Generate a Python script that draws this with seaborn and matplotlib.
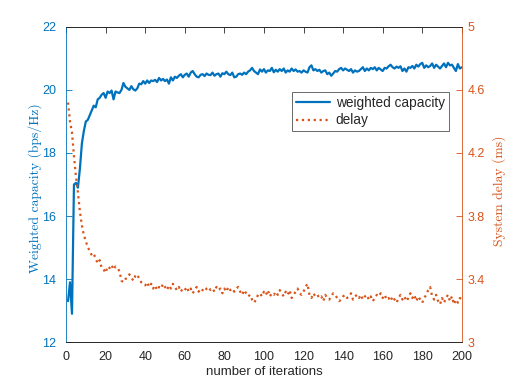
import numpy as np
import seaborn as sns
import matplotlib.pyplot as plt
import pandas as pd

# iterations 1..200
iters = np.arange(1, 201)

# weighted capacity (bps/Hz)
cap = [
    13.3, 13.9, 12.9, 17.0, 17.05, 16.9, 17.5, 18.3, 18.7, 19.0,
    19.05, 19.2, 19.35, 19.5, 19.45, 19.7, 19.75, 19.85, 19.9, 19.75,
    19.95, 19.9, 19.98, 19.7, 19.95, 19.92, 19.9, 20.0, 20.22, 20.1,
    20.05, 20.0, 20.12, 20.02, 19.98, 20.05, 20.2, 20.18, 20.28, 20.2,
    20.3, 20.22, 20.3, 20.28, 20.32, 20.25, 20.38, 20.3, 20.35, 20.28,
    20.33, 20.2, 20.4, 20.3, 20.42, 20.38, 20.45, 20.5, 20.4, 20.48,
    20.52, 20.42, 20.55, 20.6, 20.5, 20.42, 20.4, 20.48, 20.5, 20.44,
    20.52, 20.48, 20.47, 20.55, 20.45, 20.5, 20.52, 20.42, 20.53, 20.5,
    20.58, 20.5, 20.47, 20.55, 20.4, 20.42, 20.5, 20.52, 20.48, 20.55,
    20.5, 20.58, 20.62, 20.7, 20.6, 20.55, 20.5, 20.65, 20.58, 20.66,
    20.55, 20.62, 20.6, 20.7, 20.56, 20.64, 20.58, 20.66, 20.6, 20.68,
    20.55, 20.62, 20.58, 20.68, 20.6, 20.65, 20.58, 20.6, 20.55, 20.62,
    20.58, 20.55, 20.72, 20.78, 20.62, 20.66, 20.6, 20.64, 20.55, 20.6,
    20.62, 20.5, 20.55, 20.45, 20.52, 20.6, 20.58, 20.66, 20.7, 20.62,
    20.68, 20.64, 20.6, 20.66, 20.55, 20.62, 20.58, 20.6, 20.66, 20.72,
    20.6, 20.68, 20.62, 20.7, 20.66, 20.72, 20.62, 20.7, 20.65, 20.6,
    20.7, 20.68, 20.75, 20.8, 20.72, 20.68, 20.74, 20.7, 20.75, 20.6,
    20.68, 20.58, 20.72, 20.7, 20.76, 20.68, 20.8, 20.74, 20.82, 20.86,
    20.7, 20.78, 20.72, 20.76, 20.84, 20.7, 20.8, 20.74, 20.68, 20.76,
    20.84, 20.72, 20.86, 20.78, 20.8, 20.7, 20.6, 20.82, 20.68, 20.72,
]

# system delay (ms)
delay = [
    4.52, 4.40, 4.33, 4.18, 4.05, 3.95, 3.83, 3.74, 3.68, 3.64,
    3.60, 3.58, 3.55, 3.56, 3.53, 3.50, 3.52, 3.47, 3.46, 3.44,
    3.48, 3.47, 3.49, 3.46, 3.48, 3.47, 3.45, 3.39, 3.38, 3.40,
    3.41, 3.43, 3.41, 3.39, 3.42, 3.43, 3.40, 3.38, 3.37, 3.36,
    3.38, 3.35, 3.37, 3.34, 3.36, 3.33, 3.35, 3.34, 3.37, 3.35,
    3.33, 3.36, 3.34, 3.37, 3.35, 3.33, 3.35, 3.32, 3.34, 3.33,
    3.35, 3.32, 3.34, 3.31, 3.33, 3.35, 3.32, 3.34, 3.33, 3.32,
    3.34, 3.35, 3.33, 3.34, 3.32, 3.35, 3.33, 3.34, 3.31, 3.34,
    3.32, 3.35, 3.33, 3.34, 3.32, 3.34, 3.35, 3.32, 3.30, 3.33,
    3.31, 3.29, 3.30, 3.27, 3.25, 3.27, 3.30, 3.31, 3.29, 3.32,
    3.30, 3.33, 3.29, 3.31, 3.30, 3.32, 3.30, 3.33, 3.31, 3.29,
    3.32, 3.30, 3.33, 3.28, 3.30, 3.32, 3.34, 3.31, 3.30, 3.32,
    3.35, 3.37, 3.30, 3.28, 3.31, 3.29, 3.30, 3.28, 3.29, 3.26,
    3.30, 3.28, 3.27, 3.29, 3.31, 3.30, 3.28, 3.26, 3.27, 3.29,
    3.30, 3.28, 3.29, 3.31, 3.27, 3.29, 3.30, 3.28, 3.30, 3.27,
    3.29, 3.30, 3.27, 3.29, 3.26, 3.28, 3.30, 3.29, 3.31, 3.28,
    3.30, 3.27, 3.28, 3.26, 3.29, 3.27, 3.25, 3.28, 3.30, 3.27,
    3.29, 3.26, 3.28, 3.31, 3.28, 3.30, 3.26, 3.29, 3.27, 3.25,
    3.28, 3.30, 3.33, 3.35, 3.29, 3.27, 3.30, 3.26, 3.24, 3.28,
    3.25, 3.28, 3.30, 3.26, 3.29, 3.24, 3.27, 3.25, 3.28, 3.27,
]

df = pd.DataFrame({'iter': iters, 'cap': cap, 'delay': delay})

blue = '#0072BD'
orange = '#D95319'
dark = '#262626'

sns.set_style('white')
plt.rcParams['font.family'] = ['Liberation Sans', 'DejaVu Sans']

fig = plt.figure(figsize=(5.12, 3.84), dpi=100)
ax1 = fig.add_axes([0.129, 0.109, 0.773, 0.821])
ax2 = ax1.twinx()

sns.lineplot(data=df, x='iter', y='cap', ax=ax1, color=blue, linewidth=1.6,
             label='weighted capacity', legend=False)
sns.lineplot(data=df, x='iter', y='delay', ax=ax2, color=orange, linewidth=1.6,
             linestyle=':', label='delay', legend=False)

ax1.set_xlim(0, 200)
ax1.set_ylim(12, 22)
ax2.set_ylim(3, 5)
ax1.set_xticks(np.arange(0, 201, 20))
ax1.set_yticks(np.arange(12, 23, 2))
r_ticks = [3, 3.4, 3.8, 4.2, 4.6, 5]
ax2.set_yticks(r_ticks)
ax2.set_yticklabels(['3', '3.4', '3.8', '4.2', '4.6', '5'])

ax1.set_xlabel('number of iterations', fontsize=9.5, color=dark, labelpad=2)
ax1.set_ylabel('Weighted capacity (bps/Hz)', fontsize=9.8, color=blue,
               family='cmr10')
ax2.set_ylabel('System delay (ms)', fontsize=9.8, color=orange,
               family='cmr10')
ax1.yaxis.set_label_coords(-0.062, 0.49)
ax2.yaxis.set_label_coords(1.076, 0.48)

# matlab-ish axes
for a in (ax1, ax2):
    for s in a.spines.values():
        s.set_linewidth(0.6)
    a.tick_params(direction='in', length=4, width=0.6, labelsize=9)
ax1.spines['left'].set_color(blue)
ax1.spines['right'].set_visible(False)
ax1.spines['top'].set_color(dark)
ax1.spines['bottom'].set_color(dark)
ax2.spines['right'].set_color(orange)
ax2.spines['left'].set_visible(False)
ax2.spines['top'].set_color(dark)
ax2.spines['bottom'].set_color(dark)
ax1.tick_params(axis='y', colors=blue, pad=7)
ax1.tick_params(axis='x', colors=dark, top=True, pad=6.5)
ax2.tick_params(axis='y', colors=orange, pad=4)

h1, l1 = ax1.get_legend_handles_labels()
h2, l2 = ax2.get_legend_handles_labels()
leg = ax2.legend(h1 + h2, l1 + l2, loc='upper right', bbox_to_anchor=(0.967, 0.794),
                 fontsize=9.8, frameon=True, fancybox=False, handlelength=2.5,
                 borderpad=0.3, labelspacing=0.25, handletextpad=0.4,
                 borderaxespad=0)
leg.get_frame().set_edgecolor(dark)
leg.get_frame().set_linewidth(0.6)

fig.savefig('out.png', dpi=100)
